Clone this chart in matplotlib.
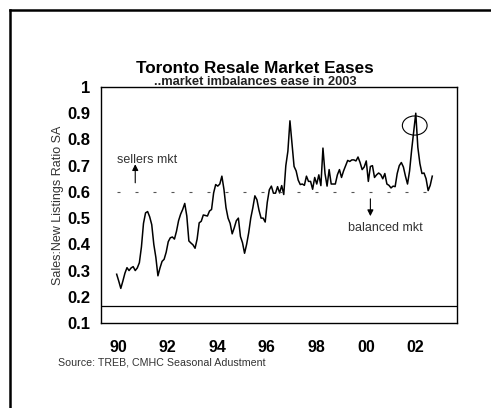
import matplotlib
matplotlib.use('Agg')
import matplotlib.pyplot as plt
from matplotlib.patches import Ellipse
from matplotlib.lines import Line2D
import numpy as np

plt.rcParams['font.family'] = ['Liberation Sans', 'DejaVu Sans']

# monthly sales / new listings ratio, seasonally adjusted, Jan 1990 onwards
ratio = [0.286, 0.26, 0.232, 0.26, 0.29, 0.311, 0.30, 0.31, 0.315, 0.30,
         0.31, 0.33, 0.39, 0.48, 0.52, 0.525, 0.505, 0.475, 0.40, 0.35,
         0.28, 0.31, 0.335, 0.343, 0.37, 0.41, 0.425, 0.428, 0.42, 0.45,
         0.49, 0.515, 0.533, 0.556, 0.508, 0.413, 0.405, 0.398, 0.385, 0.42,
         0.482, 0.488, 0.512, 0.51, 0.508, 0.527, 0.533, 0.596, 0.628, 0.622,
         0.63, 0.66, 0.61, 0.54, 0.50, 0.48, 0.44, 0.463, 0.49, 0.50,
         0.43, 0.406, 0.366, 0.40, 0.444, 0.50, 0.539, 0.585, 0.57, 0.53,
         0.50, 0.50, 0.485, 0.56, 0.608, 0.622, 0.595, 0.595, 0.62, 0.596,
         0.624, 0.59, 0.70, 0.755, 0.871, 0.786, 0.697, 0.68, 0.645, 0.628,
         0.63, 0.625, 0.66, 0.64, 0.64, 0.61, 0.655, 0.63, 0.665, 0.624,
         0.767, 0.67, 0.622, 0.685, 0.63, 0.63, 0.63, 0.665, 0.685, 0.655,
         0.68, 0.70, 0.72, 0.716, 0.722, 0.722, 0.718, 0.733, 0.712, 0.685,
         0.695, 0.718, 0.64, 0.697, 0.70, 0.655, 0.665, 0.672, 0.666, 0.65,
         0.67, 0.63, 0.625, 0.615, 0.622, 0.62, 0.67, 0.70, 0.712, 0.695,
         0.66, 0.63, 0.68, 0.76, 0.83, 0.90, 0.77, 0.708, 0.67, 0.672,
         0.65, 0.605, 0.625, 0.66]
balanced = 0.6
year_labels = ['90', '92', '94', '96', '98', '00', '02']
y_ticks = [0.1, 0.2, 0.3, 0.4, 0.5, 0.6, 0.7, 0.8, 0.9, 1]

months = np.arange(len(ratio))

fig = plt.figure(figsize=(4.91, 4.08), dpi=100)
ax = fig.add_axes([0.2057, 0.2083, 0.7251, 0.5785])

ax.plot(months, ratio, color='black', lw=1.1)
ax.plot(months[:-1], [balanced] * (len(months) - 1), color='#555555',
        lw=0.8, linestyle=(0, (2.7, 13.5)))
ax.axhline(0.163, color='black', lw=0.9)

# circle the 2002 spike
peak = int(np.argmax(ratio))
ax.add_patch(Ellipse((peak - 0.5, 0.853), 12, 0.073, fill=False,
                     edgecolor='black', lw=0.8))

ax.text(0, 0.723, 'sellers mkt', fontsize=9, color='#333333', va='center')
ax.annotate('', xy=(9, 0.716), xytext=(9, 0.624),
            arrowprops=dict(arrowstyle='-|>', color='black', lw=0.8,
                            mutation_scale=9))
ax.text(112, 0.461, 'balanced mkt', fontsize=9, color='#333333', va='center')
ax.annotate('', xy=(123, 0.497), xytext=(123, 0.584),
            arrowprops=dict(arrowstyle='-|>', color='black', lw=0.8,
                            mutation_scale=9))

ax.set_xlim(-7.6, 165)
ax.set_ylim(0.1, 1.0)
ax.set_xticks(np.arange(len(year_labels)) * 24 + 0.8)
ax.set_xticklabels(year_labels, fontsize=11.5, fontweight='bold')
ax.set_yticks(y_ticks)
ax.set_yticklabels([f'{v:g}' for v in y_ticks], fontsize=12, fontweight='bold')
ax.tick_params(length=0)
ax.tick_params(axis='x', pad=12)
ax.tick_params(axis='y', pad=8)
for s in ax.spines.values():
    s.set_linewidth(1.0)
ax.set_ylabel('Sales:New Listings Ratio SA', fontsize=9, color='#333333',
              labelpad=2)

fig.text(0.519, 0.8333, 'Toronto Resale Market Eases', ha='center',
         va='center', fontsize=12.3, fontweight='bold')
fig.text(0.519, 0.799, '..market imbalances ease in 2003', ha='center',
         va='center', fontsize=9.3, fontweight='bold', color='#222222')
fig.text(0.118, 0.1127, 'Source: TREB, CMHC Seasonal Adustment',
         va='center', fontsize=7.7, color='#333333')

# frame lines on the left and top of the page
fig.add_artist(Line2D([10 / 491, 10 / 491], [0, 1 - 10 / 408],
                      color='black', lw=1.8))
fig.add_artist(Line2D([10 / 491, 1], [1 - 10 / 408, 1 - 10 / 408],
                      color='black', lw=1.8))

fig.savefig('out.png', dpi=100)
